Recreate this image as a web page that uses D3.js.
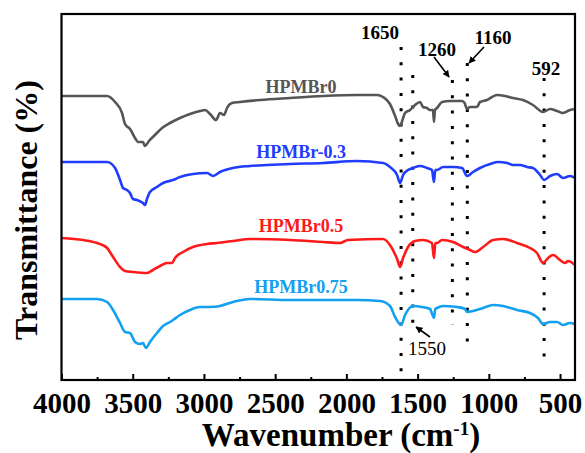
<!DOCTYPE html>
<meta charset="utf-8">
<script src="https://d3js.org/d3.v7.min.js"></script>
<html>
<head>
  <style>
    body { margin: 0; background: #fff; }
    text { font-family: "Liberation Serif", "Times New Roman", serif; font-weight: bold; }
  </style>
</head>
<body>
<div id="my_dataviz"></div>
<script>
// spectra: [wavenumber, transmittance (a.u., stacked)]
var hpmbr0 = [
  [4000,142],[3680,142],[3624,139],[3575,133.5],[3554,128],[3519,125.5],[3484,121],[3463,119],
  [3428,119],[3414,117],[3386,119.5],[3344,122.5],[3294,126],[3238,128.5],[3168,131],[3098,133],
  [3028,134.5],[2992,135],[2957,133],[2915,130],[2887,133.5],[2859,132.5],[2838,136],[2803,138.5],
  [2747,139],[2606,140],[2396,141],[2164,142],[1925,142.5],[1785,142.5],[1743,141.5],[1694,138],
  [1658,132],[1637,128],[1626,127],[1616,128],[1588,133.5],[1553,135],[1518,137.5],[1483,139],
  [1462,136.5],[1434,136],[1413,135],[1392,135],[1385,129],[1378,135],[1364,136],[1328,139],
  [1272,139.5],[1188,139.5],[1170,138.5],[1153,135.5],[1132,136.5],[1083,136.5],[1062,139],
  [1013,140],[942,142.5],[886,142],[830,141],[760,140],[690,137.5],[619,134],[570,135.5],
  [521,134.5],[479,133.5],[430,135],[395,135.5]
];
var hpmbr03 = [
  [4000,109],[3680,109],[3624,106],[3589,100],[3568,96],[3540,95],[3519,93.5],[3498,90.5],
  [3470,90],[3428,88.5],[3414,87.5],[3400,90.5],[3379,94],[3330,96.5],[3287,98.5],[3217,100],
  [3168,101.5],[3077,103],[2978,103.5],[2936,102],[2887,104],[2796,106],[2677,107],[2557,107.5],
  [2396,108],[2164,108.5],[1925,109.5],[1743,108.5],[1694,106.5],[1644,102.5],[1623,98.5],
  [1602,102.5],[1567,105],[1532,106],[1483,107],[1434,106],[1399,105],[1385,99],[1376,105],
  [1364,105],[1321,106.5],[1251,106.5],[1188,106],[1153,102],[1111,104],[1062,106],[991,108],
  [935,109],[872,108.5],[830,107.5],[781,107.5],[732,106.5],[690,106],[640,102.5],[612,100],
  [570,102],[521,103],[479,101],[430,102],[395,101]
];
var hpmbr05 = [
  [4000,71],[3849,70],[3751,68.5],[3680,66],[3638,61.5],[3589,56.5],[3554,54.5],[3498,54],
  [3400,53.5],[3358,55],[3308,57],[3259,58.5],[3224,58.5],[3203,61],[3147,64],[3077,66.5],
  [2978,68],[2908,68.5],[2796,69.5],[2677,70.5],[2396,70],[2164,69],[2045,68.5],[1989,70],
  [1743,70.5],[1694,67.5],[1644,60.5],[1623,56.5],[1602,61],[1567,66.5],[1518,69.5],[1462,70],
  [1399,68.5],[1385,61],[1376,68.5],[1364,68.5],[1328,70],[1251,69],[1181,66.5],[1132,65],
  [1097,64],[1040,66.5],[970,70],[900,70.5],[802,68.5],[711,66],[662,63.5],[619,58.5],
  [584,61],[549,62.5],[500,60],[465,58.5],[444,59.5],[395,57.5]
];
var hpmbr075 = [
  [4000,40.5],[3751,40.5],[3680,39],[3638,35],[3589,28.5],[3554,24],[3519,23.5],[3484,19],
  [3449,18],[3428,18.5],[3407,16],[3379,19],[3330,23.5],[3287,27],[3238,29],[3217,30],
  [3168,32.5],[3098,35],[3028,36.5],[2978,36.5],[2957,36.5],[2887,37],[2796,39],[2677,40.5],
  [2396,40],[2164,40],[1925,40],[1764,39.5],[1694,37],[1658,31.5],[1616,27.5],[1588,32.5],
  [1532,37],[1469,36.5],[1413,35.5],[1385,31],[1376,35.5],[1364,36],[1321,37],[1223,36.5],
  [1167,35.5],[1153,34],[1111,34.5],[1040,36],[970,37.5],[900,37],[802,35],[711,33.5],
  [655,31],[619,28],[570,29],[521,29],[479,27.5],[430,28.5],[395,28]
];

var seriesNames = ["HPMBr0", "HPMBr-0.3", "HPMBr0.5", "HPMBr0.75"];
var seriesData = [hpmbr0, hpmbr03, hpmbr05, hpmbr075];
var seriesColors = ["#555555", "#1f3cff", "#ff1a1a", "#14a0f0"];
var seriesLabelAt = [[2318,143.5],[2318,111],[2318,74],[2318,43.5]];

var majorTicks = [4000,3500,3000,2500,2000,1500,1000,500];
var minorTicks = [3750,3250,2750,2250,1750,1250,750];

// vertical dotted guides: wavenumber, [bottom, top]
var guideWn = [1616, 1534, 1256, 1151, 612];
var guideSpan = [[3.5,166.5],[28.5,152.5],[27.5,150],[18.5,158.5],[10,151]];
var peakLabels = ["1650", "1260", "1160", "592", "1550"];
var peakLabelAt = [[1764,170.5],[1364,162],[970,168],[598,152.5],[1434,12.5]];
var arrows = [ [[1385,161.5],[1279,151.5]], [[1034,166.5],[1139,158.5]], [[1413,21.5],[1511,26.5]] ];

var W = 585, H = 453;
var plot = {left: 61.5, right: 575, top: 14, bottom: 380};

var svg = d3.select("#my_dataviz").append("svg")
  .attr("width", W).attr("height", H);

var x = d3.scaleLinear().domain([4000, 395]).range([plot.left, plot.right]);
var y = d3.scaleLinear().domain([0, 183]).range([plot.bottom, plot.top]);

svg.append("defs").append("marker")
  .attr("id", "arr")
  .attr("viewBox", "0 0 10 10")
  .attr("refX", 9).attr("refY", 5)
  .attr("markerWidth", 7).attr("markerHeight", 7)
  .attr("markerUnits", "userSpaceOnUse")
  .attr("orient", "auto")
  .append("path").attr("d", "M0,0L10,5L0,10z").attr("fill", "black");

// dotted guide lines
svg.selectAll(".guide")
  .data(guideWn)
  .enter().append("line")
    .attr("x1", function(d) { return x(d); })
    .attr("x2", function(d) { return x(d); })
    .attr("y1", function(d, i) { return y(guideSpan[i][1]); })
    .attr("y2", function(d, i) { return y(guideSpan[i][0]); })
    .attr("stroke", "black")
    .attr("stroke-width", 3)
    .attr("stroke-dasharray", "3 12.3");

// spectra
var line = d3.line()
  .x(function(d) { return x(d[0]); })
  .y(function(d) { return y(d[1]); })
  .curve(d3.curveMonotoneX);

seriesData.forEach(function(s, i) {
  svg.append("path")
    .datum(s)
    .attr("fill", "none")
    .attr("stroke", seriesColors[i])
    .attr("stroke-width", 2.6)
    .attr("stroke-linejoin", "round")
    .attr("d", line);

  svg.append("text")
    .attr("x", x(seriesLabelAt[i][0]))
    .attr("y", y(seriesLabelAt[i][1]))
    .attr("text-anchor", "middle")
    .style("font-size", "18px")
    .attr("fill", seriesColors[i])
    .text(seriesNames[i]);
});

// peak labels
svg.selectAll(".peak")
  .data(peakLabels)
  .enter().append("text")
    .attr("x", function(d, i) { return x(peakLabelAt[i][0]); })
    .attr("y", function(d, i) { return y(peakLabelAt[i][1]); })
    .attr("text-anchor", "middle")
    .style("font-size", "19px")
    .style("font-weight", function(d) { return d === "1550" ? "normal" : "bold"; })
    .text(function(d) { return d; });

// arrows
arrows.forEach(function(a) {
  svg.append("line")
    .attr("x1", x(a[0][0])).attr("y1", y(a[0][1]))
    .attr("x2", x(a[1][0])).attr("y2", y(a[1][1]))
    .attr("stroke", "black")
    .attr("stroke-width", 1.6)
    .attr("marker-end", "url(#arr)");
});

// x axis
var xAxis = svg.append("g")
  .attr("transform", "translate(0," + plot.bottom + ")")
  .call(d3.axisBottom(x).tickValues(majorTicks).tickSize(-6).tickFormat(d3.format("d")));
xAxis.select(".domain").remove();
xAxis.selectAll("line").attr("stroke-width", 2);
xAxis.selectAll("text")
  .attr("y", 33).attr("dy", null)
  .style("font-size", "29px")
  .style("font-family", "'Liberation Serif', 'Times New Roman', serif")
  .style("font-weight", "bold");

var xMinor = svg.append("g")
  .attr("transform", "translate(0," + plot.bottom + ")")
  .call(d3.axisBottom(x).tickValues(minorTicks).tickSize(-3).tickFormat(""));
xMinor.select(".domain").remove();
xMinor.selectAll("line").attr("stroke-width", 2);

// frame
svg.append("rect")
  .attr("x", plot.left).attr("y", plot.top)
  .attr("width", plot.right - plot.left)
  .attr("height", plot.bottom - plot.top)
  .attr("fill", "none")
  .attr("stroke", "black")
  .attr("stroke-width", 2.2);

// axis titles
var xt = svg.append("text")
  .attr("x", 341).attr("y", 446)
  .attr("text-anchor", "middle")
  .style("font-size", "33px");
xt.append("tspan").text("Wavenumber (cm");
xt.append("tspan").attr("dy", -11).style("font-size", "19px").text("-1");
xt.append("tspan").attr("dy", 11).text(")");

svg.append("text")
  .attr("transform", "translate(37,210) rotate(-90)")
  .attr("text-anchor", "middle")
  .style("font-size", "32px")
  .text("Transmittance (%)");
</script>
</body>
</html>
